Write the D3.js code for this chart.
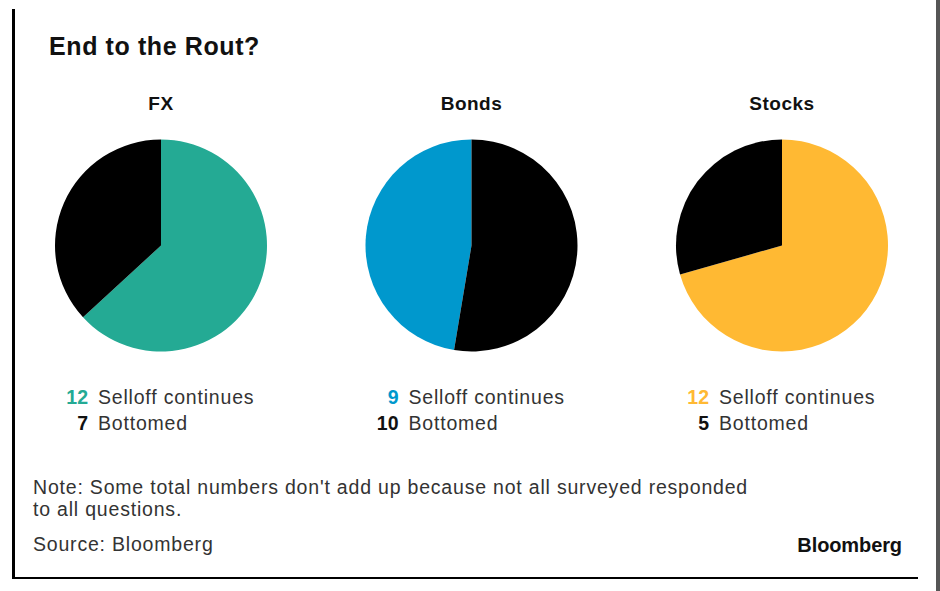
<!DOCTYPE html>
<html>
<head>
<meta charset="utf-8">
<script src="https://cdn.jsdelivr.net/npm/d3@7"></script>
<style>
  body { margin: 0; background: #fff; }
  svg { display: block; font-family: "Liberation Sans", Arial, sans-serif; }
</style>
</head>
<body>
<svg id="chart" width="940" height="591"></svg>
<script>
// survey answers per market
var panels = ["FX", "Bonds", "Stocks"];
var selloffValues = [12, 9, 12];
var bottomedValues = [7, 10, 5];
var seriesLabels = ["Selloff continues", "Bottomed"];
var noteLines = [
  "Note: Some total numbers don't add up because not all surveyed responded",
  "to all questions."
];
var sourceText = "Source: Bloomberg";

var accent = ["#24aa94", "#0098cd", "#ffb933"];

var svg = d3.select("#chart");

// frame
svg.append("rect").attr("x", 12).attr("y", 9).attr("width", 3).attr("height", 570).attr("fill", "#000");
svg.append("rect").attr("x", 12).attr("y", 577).attr("width", 906).attr("height", 2).attr("fill", "#000");
svg.append("rect").attr("x", 936).attr("y", 0).attr("width", 4).attr("height", 591).attr("fill", "#555");

svg.append("text")
  .attr("x", 49).attr("y", 55)
  .attr("font-size", 25).attr("font-weight", "bold")
  .attr("letter-spacing", 0.6)
  .attr("fill", "#111")
  .text("End to the Rout?");

var xCenter = d3.scalePoint().domain(panels).range([161, 782]);
var cy = 245.5, radius = 106;

var pie = d3.pie().value(function (d) { return d.value; }); // default sort: biggest first
var arc = d3.arc().innerRadius(0).outerRadius(radius);

panels.forEach(function (name, i) {
  var cx = xCenter(name);
  var slices = [
    { key: "selloff", value: selloffValues[i], color: accent[i] },
    { key: "bottomed", value: bottomedValues[i], color: "#000" }
  ];

  var g = svg.append("g").attr("transform", "translate(" + cx + "," + cy + ")");
  g.selectAll("path")
    .data(pie(slices))
    .enter().append("path")
    .attr("d", arc)
    .attr("fill", function (d) { return d.data.color; });

  svg.append("text")
    .attr("x", cx).attr("y", 110)
    .attr("text-anchor", "middle")
    .attr("font-size", 19).attr("font-weight", "bold")
    .attr("letter-spacing", 0.5)
    .attr("fill", "#111")
    .text(name);

  // legend
  var rows = [
    { num: selloffValues[i], label: seriesLabels[0], color: accent[i] },
    { num: bottomedValues[i], label: seriesLabels[1], color: "#111" }
  ];
  var lg = svg.append("g");
  lg.selectAll("text.num")
    .data(rows).enter().append("text")
    .attr("class", "num")
    .attr("x", cx - 73)
    .attr("y", function (d, k) { return 404 + k * 25.5; })
    .attr("text-anchor", "end")
    .attr("font-size", 19.5).attr("font-weight", "bold")
    .attr("fill", function (d) { return d.color; })
    .text(function (d) { return d.num; });
  lg.selectAll("text.lab")
    .data(rows).enter().append("text")
    .attr("class", "lab")
    .attr("x", cx - 63)
    .attr("y", function (d, k) { return 404 + k * 25.5; })
    .attr("font-size", 19.5)
    .attr("letter-spacing", 0.8)
    .attr("fill", "#333")
    .text(function (d) { return d.label; });
});

svg.selectAll("text.note")
  .data(noteLines).enter().append("text")
  .attr("class", "note")
  .attr("x", 33)
  .attr("y", function (d, k) { return 494 + k * 21.5; })
  .attr("font-size", 19.5)
  .attr("letter-spacing", 0.8)
  .attr("fill", "#333")
  .text(function (d) { return d; });

svg.append("text")
  .attr("x", 33).attr("y", 551)
  .attr("font-size", 19.5)
  .attr("letter-spacing", 0.8)
  .attr("fill", "#333")
  .text(sourceText);

svg.append("text")
  .attr("x", 902).attr("y", 552)
  .attr("text-anchor", "end")
  .attr("font-size", 20).attr("font-weight", "bold")
  .attr("letter-spacing", -0.1)
  .attr("fill", "#111")
  .text("Bloomberg");
</script>
</body>
</html>
